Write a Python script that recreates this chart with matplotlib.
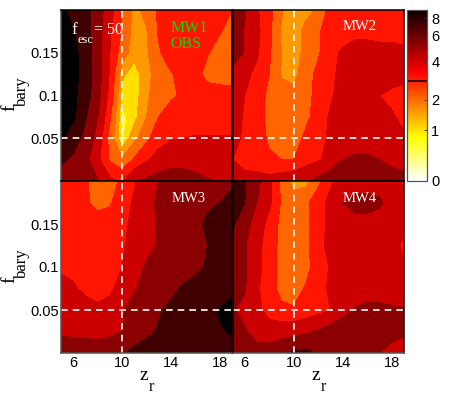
import numpy as np
import matplotlib
matplotlib.use('Agg')
import matplotlib.pyplot as plt
from matplotlib.colors import FuncNorm

z_r = [5, 6, 7, 8, 9, 10, 11, 12, 13, 14, 15, 16, 17, 18, 19]
f_bary = [0.2, 0.175, 0.15, 0.125, 0.1, 0.075, 0.05, 0.025, 0.0]

mw1 = [
 [7.5,6.3,6.0,4.8,3.7,2.5,1.6,2.0,2.6,3.0,3.0,2.9,2.9,2.8,2.5],
 [8.0,7.1,6.0,4.8,3.4,2.4,1.55,1.75,2.6,2.9,2.9,2.9,2.8,2.55,2.2],
 [8.0,7.5,6.2,4.8,3.3,2.1,1.5,1.7,2.4,2.9,2.9,2.8,2.55,2.2,2.0],
 [8.0,7.6,6.3,4.8,3.2,1.4,1.05,1.6,2.1,2.45,2.7,2.7,2.3,2.1,2.0],
 [8.0,7.4,6.1,4.7,3.0,1.15,1.05,1.7,2.1,2.4,2.6,2.8,2.8,2.9,2.9],
 [8.0,7.3,5.6,4.3,2.6,0.9,1.15,1.8,2.5,2.8,3.0,3.0,3.0,3.0,3.0],
 [7.2,6.0,5.2,3.9,2.2,0.9,1.6,2.3,3.0,3.25,3.3,3.35,3.35,3.35,3.35],
 [5.7,5.3,4.6,3.5,2.4,1.9,2.6,3.2,3.6,3.8,3.8,3.7,3.7,3.7,3.7],
 [5.0,4.8,4.6,4.4,3.5,3.2,4.2,4.5,4.8,5.0,5.0,4.7,4.4,4.2,4.2],
]
mw2 = [
 [5.0,4.4,3.4,2.7,1.9,1.2,1.6,1.9,2.8,2.9,2.9,2.9,2.9,2.9,2.9],
 [5.1,4.2,3.5,2.7,1.7,1.5,2.0,2.4,2.9,3.0,3.1,3.1,3.1,3.1,3.1],
 [4.9,4.2,3.4,2.6,1.8,1.5,2.0,2.4,3.1,3.4,3.6,3.6,3.5,3.5,3.4],
 [4.0,3.5,3.1,2.5,1.75,1.6,2.2,2.7,3.15,3.5,3.7,3.7,3.7,3.7,3.6],
 [3.8,3.3,2.9,2.3,2.0,2.0,2.2,2.8,3.2,3.6,3.7,3.6,3.3,3.1,2.95],
 [3.7,3.2,2.8,2.3,2.1,2.0,2.3,2.9,3.4,3.7,3.8,3.7,3.6,3.4,3.1],
 [3.5,3.2,2.8,2.4,2.1,2.1,2.7,3.1,3.4,3.6,3.7,3.7,3.6,3.5,3.4],
 [3.3,3.0,2.9,2.6,2.5,2.5,2.9,3.2,3.6,4.3,4.5,4.5,4.3,3.9,3.7],
 [3.6,3.6,3.6,3.6,3.8,4.0,4.2,4.6,5.0,5.2,5.3,5.3,5.1,5.0,4.8],
]
mw3 = [
 [2.9,2.8,2.6,2.2,2.1,2.7,3.2,3.8,4.3,4.7,4.9,5.0,5.1,5.2,5.3],
 [2.9,2.8,2.6,2.3,2.4,3.0,3.4,3.9,4.5,4.8,4.9,5.1,5.3,5.5,5.8],
 [2.9,2.9,2.8,2.8,2.9,3.1,3.5,4.0,4.4,4.8,5.0,5.2,5.7,6.2,6.3],
 [3.0,2.95,2.9,2.9,3.0,3.2,3.6,4.1,4.35,4.8,5.0,5.2,5.5,5.9,6.2],
 [3.1,3.1,3.0,3.0,3.05,3.3,3.9,4.4,4.7,4.9,5.1,5.3,5.6,6.0,6.3],
 [3.7,3.4,3.1,2.9,3.1,3.7,4.2,4.7,5.0,5.3,5.6,5.8,6.0,6.3,6.5],
 [3.9,3.8,3.7,3.5,3.7,4.2,4.7,5.1,5.4,5.7,6.0,6.3,6.6,7.1,7.6],
 [4.2,4.1,4.0,3.9,4.0,4.3,4.9,5.2,5.6,6.0,6.3,6.5,6.7,6.9,7.1],
 [4.7,4.8,4.9,5.0,5.1,5.4,5.8,6.1,6.3,6.4,6.4,6.4,6.5,6.5,6.5],
]
mw4 = [
 [6.3,5.6,4.6,3.5,2.3,1.5,1.6,2.3,3.2,3.5,3.7,3.7,3.7,3.5,3.2],
 [6.2,5.5,4.3,3.5,2.4,2.2,2.3,3.0,3.5,4.3,4.7,4.7,4.5,3.7,3.5],
 [5.7,4.7,3.8,3.0,2.3,2.0,2.3,3.0,3.5,3.8,3.9,3.9,3.7,3.5,3.4],
 [4.9,4.4,3.5,3.0,2.2,2.0,2.3,3.1,3.5,3.7,3.8,3.8,3.7,3.5,3.2],
 [4.9,4.4,3.5,3.0,2.1,1.95,2.2,3.0,3.35,3.6,3.7,3.7,3.7,3.5,3.35],
 [4.7,4.4,3.4,2.9,2.2,2.1,2.6,3.1,3.4,3.6,3.7,3.8,3.7,3.6,3.5],
 [4.4,4.0,3.5,3.0,2.7,2.6,2.8,3.0,3.3,3.9,4.4,4.6,4.6,4.5,4.4],
 [4.4,4.4,3.9,3.7,3.8,3.9,4.1,4.4,4.8,5.0,5.0,5.0,4.9,4.7,4.5],
 [4.5,4.6,4.7,4.8,5.2,5.8,5.8,5.4,5.0,4.9,4.8,4.7,4.3,3.9,3.7],
]

levels = [0, 1.0, 1.3, 1.8, 2.5, 3.3, 4.3, 5.5, 7.0, 10]
band_colors = ['#FFFF33', '#FFE000', '#FF9900', '#FF6600', '#FF1500',
               '#CC0000', '#8B0000', '#400000', '#000000']
cbar_ticks = [0, 1, 2, 4, 6, 8]
cbar_pos = [0.0, 0.298, 0.474, 0.696, 0.848, 0.953]
x_ticks = [6, 10, 14, 18]
y_ticks = [0.05, 0.1, 0.15]
y_labels = ['0.05', '0.1', '0.15']

W, H = 463, 395
fig = plt.figure(figsize=(W / 100, H / 100), dpi=100)
serif = 'Liberation Serif'
sans = 'Liberation Sans'


def add_ax(x0, y0, x1, y1):
    return fig.add_axes([x0 / W, 1 - y1 / H, (x1 - x0) / W, (y1 - y0) / H])


boxes = [(61, 10, 232, 181), (232.5, 10, 404, 181),
         (61, 181, 232, 353), (232.5, 181, 404, 353)]
panels = [mw1, mw2, mw3, mw4]
for i, (box, data) in enumerate(zip(boxes, panels)):
    ax = add_ax(*box)
    ax.contourf(z_r, f_bary, np.array(data), levels=levels, colors=band_colors)
    ax.axvline(10, color='white', ls=(0, (4, 3)), lw=1.2)
    ax.axhline(0.05, color='white', ls=(0, (4, 3)), lw=1.2)
    ax.set_xlim(5, 19)
    ax.set_ylim(0, 0.2)
    ax.tick_params(length=0, labelsize=10.5, pad=1.5)
    if i >= 2:
        ax.set_xticks(x_ticks)
        ax.set_xticklabels([str(t) for t in x_ticks], family=sans)
        ax.tick_params(axis='x', pad=2.5)
    else:
        ax.set_xticks([])
    if i % 2 == 0:
        ax.set_yticks(y_ticks)
        ax.set_yticklabels(y_labels, family=sans)
    else:
        ax.set_yticks([])
    for s in ax.spines.values():
        s.set_color('black')
        s.set_linewidth(1.1)
    if i % 2 == 0:
        ax.spines['left'].set_color('#555555')
    if i >= 2:
        ax.spines['bottom'].set_color('#555555')


def ptext(x, y, s, size=12, color='white', **kw):
    fig.text(x / W, 1 - y / H, s, fontsize=size, color=color, family=serif,
             ha='center', va='center', **kw)


ptext(74, 30, 'f', 12.5)
ptext(85, 40, 'esc', 9)
ptext(109, 30, '= 50', 11.5)
ptext(189, 27.5, 'MW1', 11.5, '#00E000')
ptext(186, 44, 'OBS', 11.5, '#00E000')
ptext(360, 27, 'MW2', 10.5)
ptext(189, 199, 'MW3', 10.5)
ptext(360, 198, 'MW4', 10.5)
for yc in (93, 265):
    ptext(10, yc + 15, 'f', 14, 'black', rotation=90)
    ptext(22, yc - 2, 'bary', 12, 'black', rotation=90)
for xc in (144, 316):
    ptext(xc, 375, 'z', 14, 'black')
    ptext(xc + 7, 387, 'r', 11.5, 'black')

# colour bar: hot_r along the bar, with the tick values at their bar positions
cax = add_ax(407, 10, 427, 181)
top = 9.7
vals = cbar_ticks + [top]
pos = cbar_pos + [1.0]


def fwd(v):
    return np.interp(v, vals, pos)


def inv(p):
    return np.interp(p, pos, vals)


norm = FuncNorm((fwd, inv), vmin=0, vmax=top)
cb = plt.colorbar(plt.cm.ScalarMappable(norm=norm, cmap='hot_r'), cax=cax,
                  ticks=cbar_ticks, spacing='proportional')
cb.ax.yaxis.set_major_formatter(matplotlib.ticker.FixedFormatter([str(t) for t in cbar_ticks]))
cb.ax.tick_params(labelsize=10.5, length=2, width=0.6, direction='in', pad=3, color='#333333')
for lab in cb.ax.get_yticklabels():
    lab.set_family(sans)
cb.outline.set_edgecolor('#555555')
cb.outline.set_linewidth(0.9)
cb.ax.axhline(3.0, color='black', lw=1.1)

fig.savefig('out.png', dpi=100)
